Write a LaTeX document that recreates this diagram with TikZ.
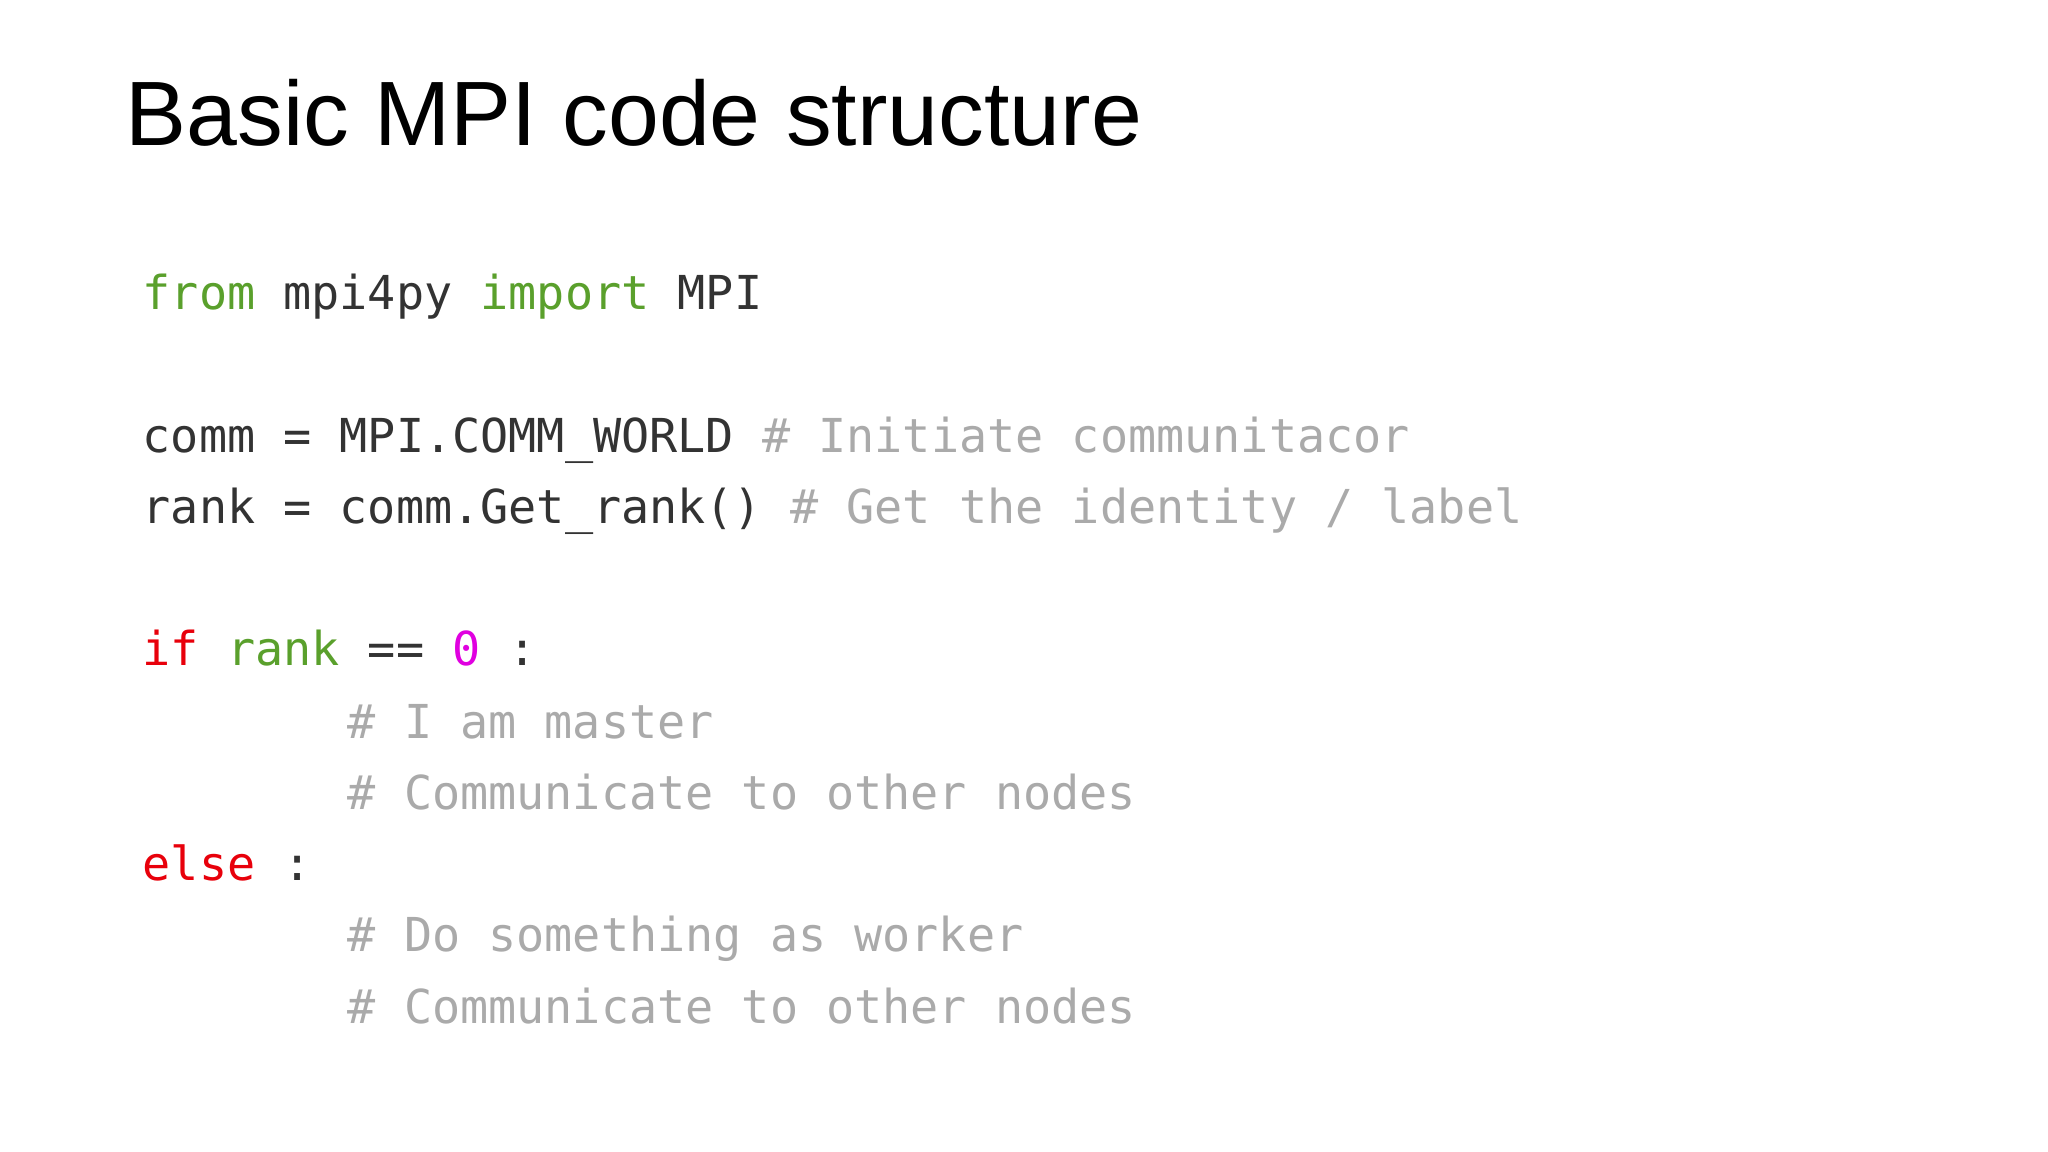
\documentclass[tikz,border=0pt]{standalone}
\usepackage{fontspec}
\setmainfont{Liberation Sans}
\setmonofont{DejaVu Sans Mono}
\definecolor{kw}{HTML}{5AA02C}
\definecolor{rd}{HTML}{E8000B}
\definecolor{mg}{HTML}{E000E0}
\definecolor{cm}{HTML}{AAAAAA}
\definecolor{tx}{HTML}{333333}
\tikzset{code/.style={anchor=base west,inner sep=0pt,font=\ttfamily\fontsize{13.3}{16}\selectfont,text=tx}}
\begin{document}
\begin{tikzpicture}[x=0.01cm,y=-0.01cm]
\useasboundingbox[fill=white] (0,0) rectangle (2048,1152);
\node[anchor=base west,inner sep=0pt,font=\fontsize{26}{30}\selectfont] (title) at (125,146) {Basic MPI code structure};
\node[code] (l1) at (142,310) {\textcolor{kw}{from} mpi4py \textcolor{kw}{import} MPI};
\node[code] (l2) at (142,453) {comm = MPI.COMM\_WORLD \textcolor{cm}{\# Initiate communitacor}};
\node[code] (l3) at (142,524) {rank = comm.Get\_rank() \textcolor{cm}{\# Get the identity / label}};
\node[code] (l4) at (142,666) {\textcolor{rd}{if} \textcolor{kw}{rank} == \textcolor{mg}{0} :};
\node[code,text=cm] (l5) at (347,738) {\# I am master};
\node[code,text=cm] (l6) at (347,809) {\# Communicate to other nodes};
\node[code] (l7) at (142,880) {\textcolor{rd}{else} :};
\node[code,text=cm] (l8) at (347,951) {\# Do something as worker};
\node[code,text=cm] (l9) at (347,1023) {\# Communicate to other nodes};
\end{tikzpicture}
\end{document}
